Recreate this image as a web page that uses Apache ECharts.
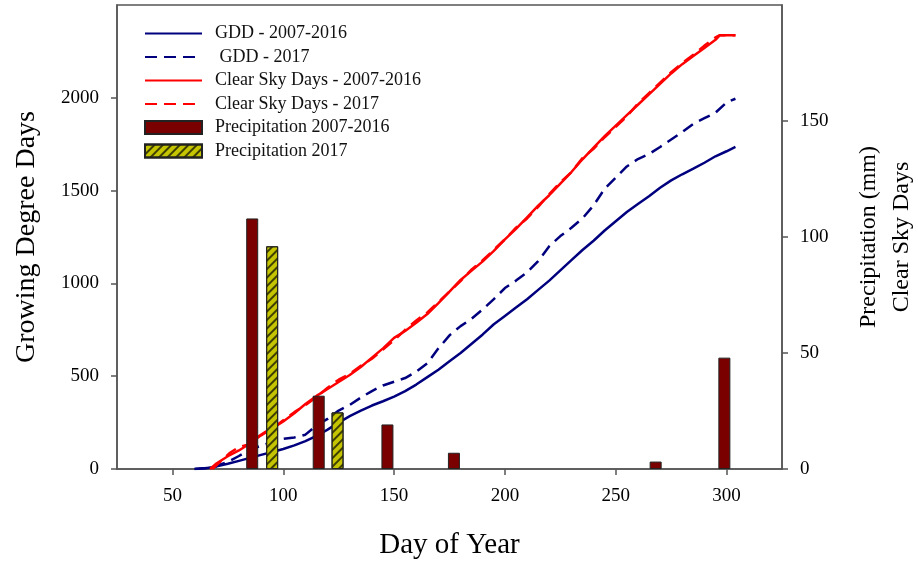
<!DOCTYPE html>
<html>
<head>
<meta charset="utf-8">
<script src="https://cdn.jsdelivr.net/npm/echarts@6/dist/echarts.min.js"></script>
<style>
  html, body { margin: 0; padding: 0; background: #fff; }
  #chart { width: 918px; height: 563px; }
</style>
</head>
<body>
<div id="chart"></div>
<script>
// Growing degree days (left axis) — day of year and cumulative GDD
const gddDays = [60,65,70,75,80,85,90,95,100,105,110,115,120,125,130,135,140,145,150,155,160,165,170,175,180,185,190,195,200,205,210,215,220,225,230,235,240,245,250,255,260,265,270,275,280,285,290,295,300,304];
const gddMean = [0,4,14,28,44,60,76,92,108,127,150,178,212,250,285,315,342,365,390,420,455,495,535,580,625,675,725,780,825,870,915,965,1015,1070,1125,1180,1230,1285,1335,1385,1428,1470,1515,1555,1588,1618,1650,1685,1712,1735];
const gdd2017 = [0,5,18,38,70,105,125,145,162,170,185,235,270,315,345,385,420,450,470,490,525,570,650,720,770,810,860,915,975,1015,1060,1120,1200,1255,1300,1350,1420,1510,1570,1630,1670,1697,1735,1775,1815,1860,1890,1920,1975,1995];

// Cumulative clear sky days (right axis)
const csdMeanDays = [67,70,75,80,85,90,95,100,105,110,115,120,125,130,135,140,145,150,155,160,165,170,175,180,185,190,195,200,205,210,215,220,225,230,235,240,245,250,255,260,265,270,275,280,285,290,295,297,304];
const csdMean = [0,2.5,5.5,8,11,14.5,17.5,20.5,24,28,31.5,34.5,37.5,40.5,44,48,52,56.5,59.5,63,66.8,71.5,76.5,81.5,85.5,89.5,94,99,103.5,108.5,113.5,118,123,128,133.5,138.5,143.5,148,152.5,157,161.5,166,170.5,174.5,178,181.5,185,187,187];
const csd2017Days = [68,72,76,80,84,88,92,96,100,105,110,115,120,125,130,135,140,145,150,155,160,165,170,175,180,185,190,195,200,205,210,215,220,225,230,235,240,245,250,255,260,265,270,275,280,285,290,295,297,304];
const csd2017 = [0,3.5,7,9.5,10.5,13.5,16,18,21,24.5,27.5,31,35,38.5,41,44.5,47.5,51.5,55.5,60,64,67.5,72,76.5,81,86,90,94.5,99,104,108,113,118.5,123.5,128,134,138,143,147.5,152,157.5,162,166.5,171,175,178.5,182.5,186,187,187];

// Monthly precipitation (mm, right axis)
const precipMeanDays = [86,116,147,177,268,299];
const precipMean = [108,31.6,19.2,7.0,3.2,48];
const precip2017Days = [95,124.5];
const precip2017 = [96,24.4];

// Axis tick values
const xTicks = [50,100,150,200,250,300];
const gddTicks = [0,500,1000,1500,2000];
const rightTicks = [0,50,100,150];

const zip = (xs, ys) => xs.map((x, i) => [x, ys[i]]);

const serif = 'Liberation Serif';
const axisColor = '#555';
const navy = '#00007f';
const plain = v => String(v);

const chart = echarts.init(document.getElementById('chart'), null, { renderer: 'canvas' });

const hatch = {
  symbol: 'rect',
  symbolSize: 1,
  color: 'rgba(40,40,0,0.85)',
  dashArrayX: [1, 0],
  dashArrayY: [1.2, 4],
  rotation: -Math.PI / 4
};

// line entries in the legend show only the stroke, no marker
const lineEntry = name => ({ name, itemStyle: { opacity: 0 } });
const barEntry = name => ({ name, icon: 'rect' });

chart.setOption({
  animation: false,
  backgroundColor: '#fff',
  grid: {
    left: 117, right: 136, top: 5, bottom: 94,
    outerBoundsMode: 'none', containLabel: false,
    show: true, borderColor: axisColor, borderWidth: 1.5, backgroundColor: 'transparent'
  },
  legend: {
    orient: 'vertical',
    left: 144, top: 24.5, padding: 0,
    itemWidth: 57, itemHeight: 13, itemGap: 5.5,
    textStyle: { fontFamily: serif, fontSize: 18, color: '#111', padding: [0, 0, 0, 8] },
    data: [
      lineEntry('GDD - 2007-2016'),
      lineEntry(' GDD - 2017'),
      lineEntry('Clear Sky Days - 2007-2016'),
      lineEntry('Clear Sky Days - 2017'),
      barEntry('Precipitation 2007-2016'),
      barEntry('Precipitation 2017')
    ]
  },
  xAxis: {
    type: 'value', min: 25, max: 325,
    name: 'Day of Year', nameLocation: 'middle', nameGap: 62,
    nameTextStyle: { fontFamily: serif, fontSize: 29, color: '#000' },
    axisLine: { show: true, lineStyle: { color: axisColor, width: 1.5 } },
    axisTick: { show: true, inside: false, length: 6, customValues: xTicks, lineStyle: { color: axisColor, width: 1.5 } },
    axisLabel: { customValues: xTicks, formatter: plain, margin: 18, fontFamily: serif, fontSize: 19, color: '#000' },
    splitLine: { show: false }
  },
  yAxis: [
    {
      type: 'value', min: 0, max: 2500, position: 'left',
      name: 'Growing Degree Days', nameLocation: 'middle', nameGap: 76, nameRotate: 90,
      nameTextStyle: { fontFamily: serif, fontSize: 28, color: '#000' },
      axisLine: { show: true, lineStyle: { color: axisColor, width: 1.5 } },
      axisTick: { show: true, inside: false, length: 6, customValues: gddTicks, lineStyle: { color: axisColor, width: 1.5 } },
      axisLabel: { customValues: gddTicks, formatter: plain, margin: 18, fontFamily: serif, fontSize: 19, color: '#000' },
      splitLine: { show: false }
    },
    {
      type: 'value', min: 0, max: 200, position: 'right',
      name: 'Precipitation (mm)\nClear Sky Days', nameLocation: 'middle', nameGap: 70, nameRotate: 90,
      nameTextStyle: { fontFamily: serif, fontSize: 24, color: '#000', lineHeight: 33, align: 'center' },
      axisLine: { show: true, lineStyle: { color: axisColor, width: 1.5 } },
      axisTick: { show: true, inside: false, length: 6, customValues: rightTicks, lineStyle: { color: axisColor, width: 1.5 } },
      axisLabel: { customValues: rightTicks, formatter: plain, margin: 18, fontFamily: serif, fontSize: 19, color: '#000' },
      splitLine: { show: false }
    }
  ],
  series: [
    {
      name: 'GDD - 2007-2016', type: 'line', yAxisIndex: 0, symbol: 'none', z: 2,
      data: zip(gddDays, gddMean),
      itemStyle: { color: navy },
      lineStyle: { color: navy, width: 2.5 }
    },
    {
      name: ' GDD - 2017', type: 'line', yAxisIndex: 0, symbol: 'none', z: 2,
      data: zip(gddDays, gdd2017),
      itemStyle: { color: navy },
      lineStyle: { color: navy, width: 2.5, type: [12, 7] }
    },
    {
      name: 'Clear Sky Days - 2007-2016', type: 'line', yAxisIndex: 1, symbol: 'none', z: 2,
      data: zip(csdMeanDays, csdMean),
      itemStyle: { color: '#ff0000' },
      lineStyle: { color: '#ff0000', width: 2.5 }
    },
    {
      name: 'Clear Sky Days - 2017', type: 'line', yAxisIndex: 1, symbol: 'none', z: 2,
      data: zip(csd2017Days, csd2017),
      itemStyle: { color: '#ff0000' },
      lineStyle: { color: '#ff0000', width: 2.5, type: [12, 7] }
    },
    {
      name: 'Precipitation 2007-2016', type: 'bar', yAxisIndex: 1, z: 3,
      barWidth: 12, barGap: '-100%',
      data: zip(precipMeanDays, precipMean),
      itemStyle: { color: '#7a0000', borderColor: '#222', borderWidth: 1 }
    },
    {
      name: 'Precipitation 2017', type: 'bar', yAxisIndex: 1, z: 3,
      barWidth: 12, barGap: '-100%',
      data: zip(precip2017Days, precip2017),
      itemStyle: { color: '#c4c400', borderColor: '#222', borderWidth: 1, decal: hatch }
    }
  ]
});
</script>
</body>
</html>
